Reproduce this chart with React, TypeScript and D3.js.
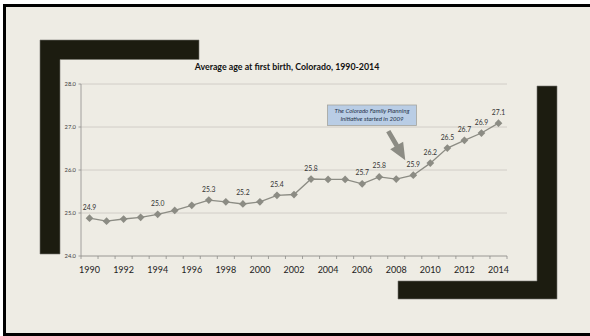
import React from 'react';
import * as d3 from 'd3';

// Average maternal age at first birth, Colorado
const years = [
  1990, 1991, 1992, 1993, 1994, 1995, 1996, 1997, 1998, 1999, 2000, 2001, 2002,
  2003, 2004, 2005, 2006, 2007, 2008, 2009, 2010, 2011, 2012, 2013, 2014,
];
const avgAge = [
  24.88, 24.81, 24.86, 24.9, 24.97, 25.06, 25.18, 25.3, 25.26, 25.21, 25.26, 25.41, 25.43,
  25.79, 25.78, 25.78, 25.68, 25.84, 25.79, 25.88, 26.16, 26.51, 26.69, 26.86, 27.09,
];
// years whose value is written above the marker
const labelledYears = [1990, 1994, 1997, 1999, 2001, 2003, 2006, 2007, 2009, 2010, 2011, 2012, 2013, 2014];
const yTicks = [24, 25, 26, 27, 28];
const xTickYears = [1990, 1992, 1994, 1996, 1998, 2000, 2002, 2004, 2006, 2008, 2010, 2012, 2014];

const title = 'Average age at first birth, Colorado, 1990-2014';
const noteLines = ['The Colorado Family Planning', 'Initiative started in 2009'];
const noteYear = 2009;

const W = 590;
const H = 336;
const BG = '#eeece4';
const INK = '#1c1c10';
const SERIES = '#8c8c84';
const GRID = '#c9c7bf';
const AXIS = '#8e8e8a';
const FONT = 'Lato, "Open Sans", sans-serif';

const plot = { left: 81, right: 507, top: 84, bottom: 256 };

export default function App() {
  const x = d3.scaleBand<number>().domain(years).range([plot.left, plot.right]).paddingInner(0).paddingOuter(0);
  const cx = (yr: number) => (x(yr) as number) + x.bandwidth() / 2;
  const y = d3.scaleLinear().domain([24, 28]).range([plot.bottom, plot.top]);

  const points = years.map((yr, i) => ({ yr, v: avgAge[i] }));
  const line = d3
    .line<{ yr: number; v: number }>()
    .x((d) => cx(d.yr))
    .y((d) => y(d.v));
  const marker = d3.symbol().type(d3.symbolSquare).size(30)();
  const fmt = d3.format('.1f');

  // band boundaries get the small category ticks
  const boundaries = years.map((yr) => x(yr) as number).concat([plot.right]);

  // callout arrow pointing at the start of the initiative
  const nIdx = years.indexOf(noteYear);
  const tip: [number, number] = [cx(noteYear) - 8, y(avgAge[nIdx]) - 15];
  const tail: [number, number] = [tip[0] - 17, tip[1] - 29];
  const dx = tip[0] - tail[0];
  const dy = tip[1] - tail[1];
  const len = Math.hypot(dx, dy);
  const ux = dx / len;
  const uy = dy / len;
  const px = -uy;
  const py = ux;
  const headLen = 17;
  const headHalf = 7.5;
  const shaftHalf = 2.4;
  const base: [number, number] = [tip[0] - ux * headLen, tip[1] - uy * headLen];
  const arrowPts: [number, number][] = [
    [tail[0] + px * shaftHalf, tail[1] + py * shaftHalf],
    [base[0] + px * shaftHalf, base[1] + py * shaftHalf],
    [base[0] + px * headHalf, base[1] + py * headHalf],
    tip,
    [base[0] - px * headHalf, base[1] - py * headHalf],
    [base[0] - px * shaftHalf, base[1] - py * shaftHalf],
    [tail[0] - px * shaftHalf, tail[1] - py * shaftHalf],
  ];
  const arrowPath = d3.line()(arrowPts) + 'Z';

  const box = { x: 327.5, y: 105, w: 89, h: 20.5 };

  return (
    <svg
      width={W}
      height={H}
      viewBox={`0 0 ${W} ${H}`}
      style={{ position: 'fixed', left: 0, top: 0, display: 'block' }}
      fontFamily={FONT}
    >
      <rect x={0} y={0} width={W} height={H} fill="#ffffff" />
      <rect x={4.5} y={5.5} width={W + 10} height={329} fill={BG} stroke="#000" strokeWidth={3} />

      {/* decorative corner brackets */}
      <g fill={INK} stroke="#77776f" strokeWidth={0.6}>
        <path d="M40,40H199V59.5H60V254H40Z" />
        <path d="M537,86H557V299H398V281H537Z" />
      </g>

      {/* title */}
      <text x={287} y={70} textAnchor="middle" fontSize={8.8} fontWeight={700} fill="#111">
        {title}
      </text>

      {/* gridlines */}
      {yTicks.slice(1).map((t) => (
        <line key={t} x1={plot.left} x2={plot.right} y1={y(t)} y2={y(t)} stroke={GRID} strokeWidth={0.8} />
      ))}

      {/* y axis */}
      <line x1={plot.left} x2={plot.left} y1={plot.top} y2={plot.bottom} stroke={AXIS} strokeWidth={0.8} />
      {yTicks.map((t) => (
        <g key={t}>
          <line x1={plot.left - 2.5} x2={plot.left} y1={y(t)} y2={y(t)} stroke={AXIS} strokeWidth={0.8} />
          <text x={76} y={y(t)} dy="0.35em" textAnchor="end" fontSize={5.8} fill="#404040">
            {fmt(t)}
          </text>
        </g>
      ))}

      {/* x axis */}
      <line x1={plot.left} x2={plot.right} y1={plot.bottom} y2={plot.bottom} stroke={AXIS} strokeWidth={0.9} />
      {boundaries.map((b, i) => (
        <line key={i} x1={b} x2={b} y1={plot.bottom} y2={plot.bottom + 3} stroke={AXIS} strokeWidth={0.8} />
      ))}
      {xTickYears.map((yr) => (
        <text key={yr} x={cx(yr)} y={272.5} textAnchor="middle" fontSize={9} fill="#222">
          {yr}
        </text>
      ))}

      {/* series */}
      <path d={line(points) || ''} fill="none" stroke={SERIES} strokeWidth={1.3} />
      {points.map((d) => (
        <path
          key={d.yr}
          d={marker || ''}
          transform={`translate(${cx(d.yr)},${y(d.v)}) rotate(45)`}
          fill={SERIES}
        />
      ))}
      {points
        .filter((d) => labelledYears.includes(d.yr))
        .map((d) => (
          <text key={d.yr} x={cx(d.yr)} y={y(d.v) - 8.5} textAnchor="middle" fontSize={6.8} fill="#333">
            {fmt(d.v)}
          </text>
        ))}

      {/* callout */}
      <rect x={box.x} y={box.y} width={box.w} height={box.h} fill="#b9cde5" stroke="#a3a39d" strokeWidth={0.8} />
      {noteLines.map((l, i) => (
        <text
          key={i}
          x={box.x + box.w / 2}
          y={box.y + 8.2 + i * 7.6}
          textAnchor="middle"
          fontSize={6.1}
          fontStyle="italic"
          fill="#24324a"
        >
          {l}
        </text>
      ))}
      <path d={arrowPath} fill={SERIES} />
    </svg>
  );
}
